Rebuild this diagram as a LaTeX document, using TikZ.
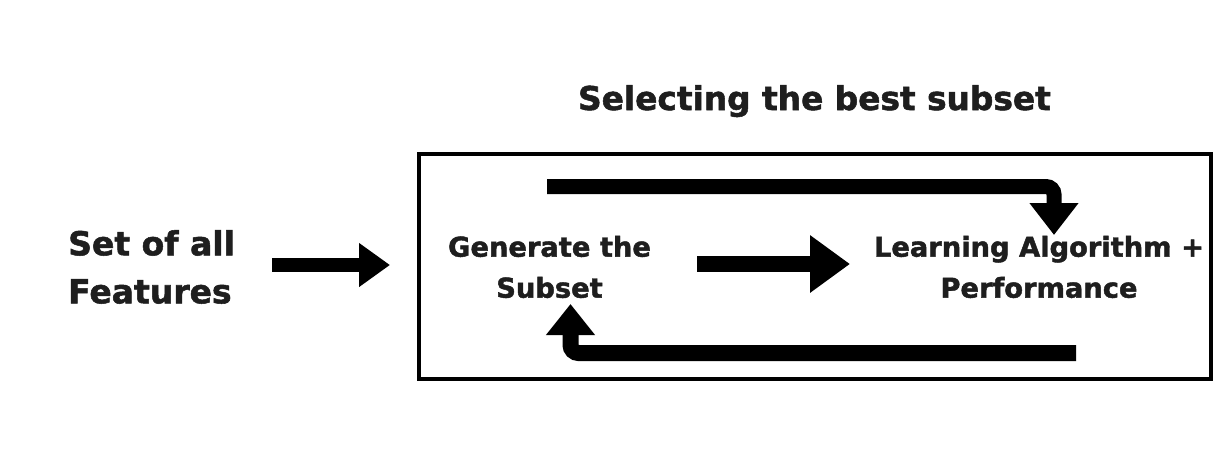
\documentclass[tikz,border=0pt]{standalone}
\usepackage{fontspec}
\setmainfont{DejaVu Sans}[BoldFeatures={FakeBold=1.6}]
\usetikzlibrary{arrows.meta}
\definecolor{txt}{HTML}{1E1E1E}
\begin{document}
\begin{tikzpicture}[x=1pt,y=-1pt,
  lbl/.style={font=\bfseries\fontsize{27.3}{41}\selectfont, text=txt, align=center, inner sep=0pt},
  fatarrow/.style={line width=#1, draw=black},
  frame/.style={draw=black, line width=4pt}]
\useasboundingbox[fill=white] (0,0) rectangle (1232,464);
% texts
\node[font=\bfseries\fontsize{32.8}{40}\selectfont, text=txt, anchor=base, inner sep=0pt] (title) at (814.5,110) {Selecting the best subset};
\node[font=\bfseries\fontsize{33}{48}\selectfont, text=txt, align=left, anchor=west, inner sep=0pt] (all) at (68,267) {Set of all\\Features};
\node[lbl] (gen) at (549.5,267) {Generate the\\Subset};
\node[lbl] (learn) at (1039,267) {Learning Algorithm +\\Performance};
% frame
\node[frame, minimum width=792pt, minimum height=225pt, inner sep=0pt, anchor=north west] (box) at (417,152) {};
% arrow coordinates
\coordinate (a1s) at (272,265);
\coordinate (a1e) at (390,265);
\coordinate (a2s) at (697,264);
\coordinate (a2e) at (850,264);
\coordinate (t1) at (547,186.5);
\coordinate (t2) at (1054,186.5);
\coordinate (t3) at (1054,235);
\coordinate (b1) at (1076,353);
\coordinate (b2) at (570.5,353);
\coordinate (b3) at (570.5,304);
\draw[fatarrow=14pt, -{Triangle[length=31pt 0 0, width=42pt 0 0]}] (a1s) -- (a1e);
\draw[fatarrow=16pt, -{Triangle[length=40pt 0 0, width=55pt 0 0]}] (a2s) -- (a2e);
\draw[fatarrow=15pt, rounded corners=8pt, -{Triangle[length=32pt 0 0, width=47pt 0 0]}] (t1) -- (t2) -- (t3);
\draw[fatarrow=16pt, rounded corners=8pt, -{Triangle[length=31pt 0 0, width=47pt 0 0]}] (b1) -- (b2) -- (b3);
\end{tikzpicture}
\end{document}
